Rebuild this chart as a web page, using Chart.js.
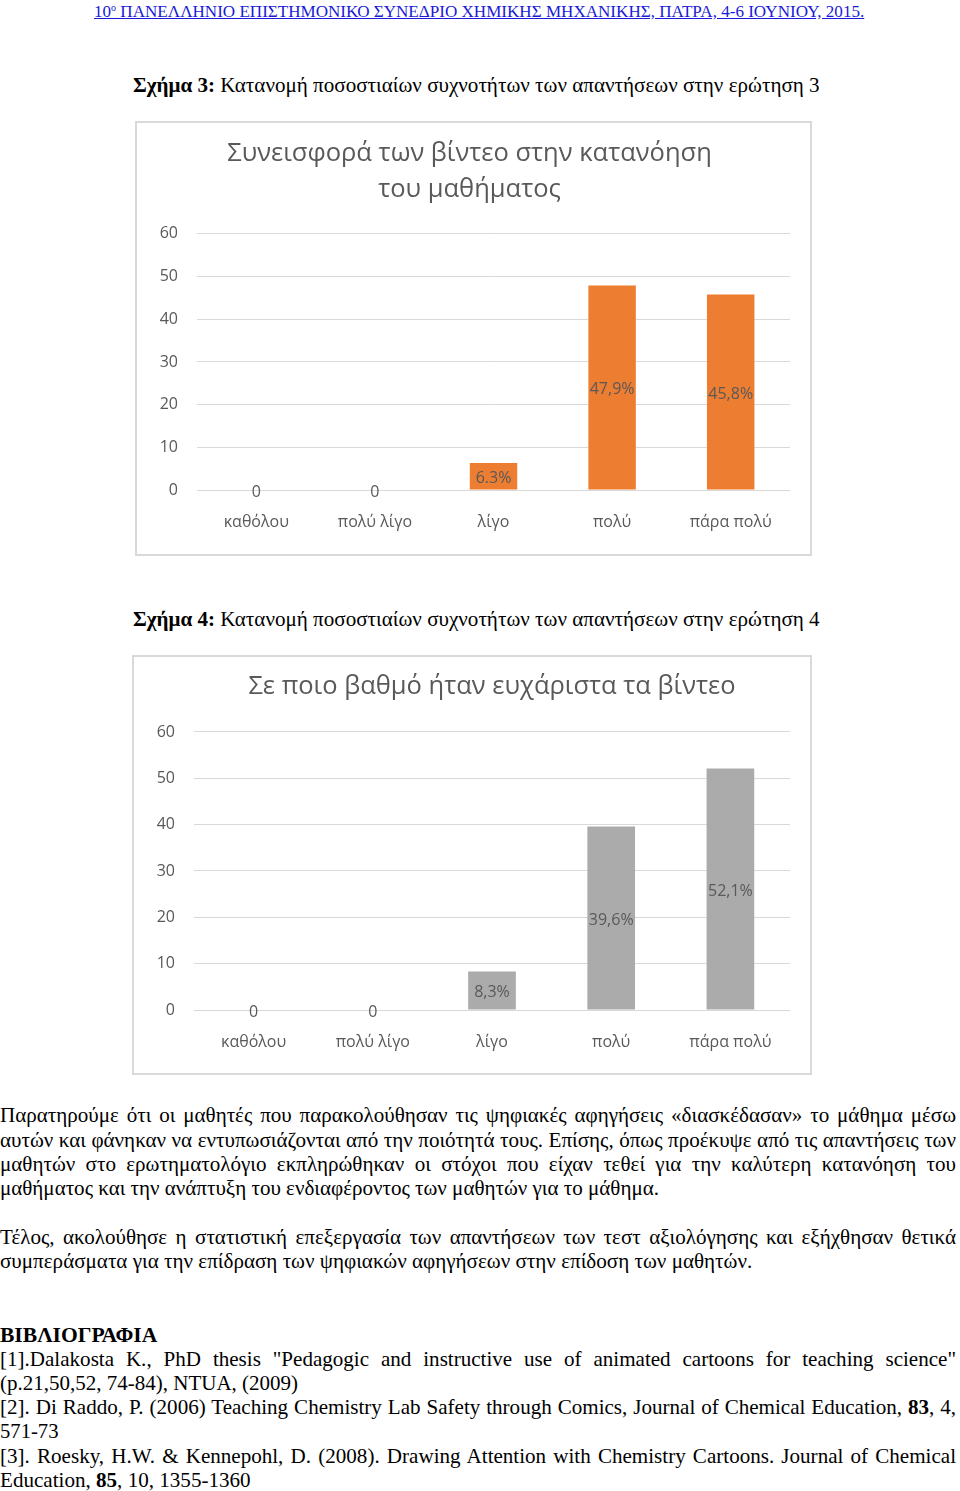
<!DOCTYPE html>
<html>
<head>
<meta charset="utf-8">
<script src="https://cdn.jsdelivr.net/npm/chart.js@4.4.1/dist/chart.umd.min.js"></script>
<style>
  body { margin: 0; background: #fff; width: 960px; height: 1491px; position: relative; overflow: hidden;
         font-family: "Liberation Serif", "Times New Roman", serif; color: #000; }
  .ln { position: absolute; left: 0; font-size: 21px; line-height: 24px; white-space: nowrap; transform-origin: 0 50%; }
  .ln.j { white-space: normal; text-align: justify; text-align-last: justify; }
  .hdr { font-size: 17px; color: #1a1ad8; text-decoration: underline; }
  .hdr sup { font-size: 10px; vertical-align: 6px; line-height: 0; }
  .box { position: absolute; border: 2px solid #d9d9d9; background: #fff; }
  .box canvas { display: block; }
</style>
</head>
<body>

<div class="ln hdr" style="left:94px; top:0px;" data-w="770">10<sup>ο</sup> ΠΑΝΕΛΛΗΝΙΟ ΕΠΙΣΤΗΜΟΝΙΚΟ ΣΥΝΕΔΡΙΟ ΧΗΜΙΚΗΣ ΜΗΧΑΝΙΚΗΣ, ΠΑΤΡΑ, 4-6 ΙΟΥΝΙΟΥ, 2015.</div>

<div class="ln" style="left:133px; top:73px;" data-w="687"><b>Σχήμα 3:</b> Κατανομή ποσοστιαίων συχνοτήτων των απαντήσεων στην ερώτηση 3</div>

<div class="box" style="left:135px; top:121px;"><canvas id="chart1" width="673" height="431"></canvas></div>

<div class="ln" style="left:133px; top:607px;" data-w="687"><b>Σχήμα 4:</b> Κατανομή ποσοστιαίων συχνοτήτων των απαντήσεων στην ερώτηση 4</div>

<div class="box" style="left:132px; top:655px;"><canvas id="chart2" width="676" height="416"></canvas></div>

<div class="ln j" style="top:1103px;">Παρατηρούμε ότι οι μαθητές που παρακολούθησαν τις ψηφιακές αφηγήσεις «διασκέδασαν» το μάθημα μέσω</div>
<div class="ln j" style="top:1128px;">αυτών και φάνηκαν να εντυπωσιάζονται από την ποιότητά τους. Επίσης, όπως προέκυψε από τις απαντήσεις των</div>
<div class="ln j" style="top:1152px;">μαθητών στο ερωτηματολόγιο εκπληρώθηκαν οι στόχοι που είχαν τεθεί για την καλύτερη κατανόηση του</div>
<div class="ln body" style="top:1176px;" data-w="659">μαθήματος και την ανάπτυξη του ενδιαφέροντος των μαθητών για το μάθημα.</div>

<div class="ln j" style="top:1225px;">Τέλος, ακολούθησε η στατιστική επεξεργασία των απαντήσεων των τεστ αξιολόγησης και εξήχθησαν θετικά</div>
<div class="ln body" style="top:1249px;" data-w="752">συμπεράσματα για την επίδραση των ψηφιακών αφηγήσεων στην επίδοση των μαθητών.</div>

<div class="ln" style="top:1323px;" data-w="157"><b>ΒΙΒΛΙΟΓΡΑΦΙΑ</b></div>
<div class="ln j" style="top:1347px;">[1].Dalakosta K., PhD thesis "Pedagogic and instructive use of animated cartoons for teaching science"</div>
<div class="ln" style="top:1371px;" data-w="298">(p.21,50,52, 74-84), NTUA, (2009)</div>
<div class="ln j" style="top:1395px;">[2]. Di Raddo, P. (2006) Teaching Chemistry Lab Safety through Comics, Journal of Chemical Education, <b>83</b>, 4,</div>
<div class="ln" style="top:1419px;" data-w="59">571-73</div>
<div class="ln j" style="top:1444px;">[3]. Roesky, H.W. &amp; Kennepohl, D. (2008). Drawing Attention with Chemistry Cartoons. Journal of Chemical</div>
<div class="ln" style="top:1468px;" data-w="251">Education, <b>85</b>, 10, 1355-1360</div>

<script>
// chart data
var categories = ['καθόλου', 'πολύ λίγο', 'λίγο', 'πολύ', 'πάρα πολύ'];
var yTicks = [0, 10, 20, 30, 40, 50, 60];

var understandingTitle = ['Συνεισφορά των βίντεο στην κατανόηση', 'του μαθήματος'];
var understandingValues = [0, 0, 6.3, 47.9, 45.8];
var understandingLabels = ['0', '0', '6.3%', '47,9%', '45,8%'];

var enjoymentTitle = 'Σε ποιο βαθμό ήταν ευχάριστα τα βίντεο';
var enjoymentValues = [0, 0, 8.3, 39.6, 52.1];
var enjoymentLabels = ['0', '0', '8,3%', '39,6%', '52,1%'];

var chartFont = '"Open Sans", "Noto Sans", sans-serif';
var textGrey = '#595959';

// fit the text lines to the page widths
var bodyScales = [];
document.querySelectorAll('.ln:not(.j)').forEach(function (el) {
    var s = (+el.dataset.w) / el.offsetWidth;
    el.style.transform = 'scaleX(' + s + ')';
    if (el.classList.contains('body')) bodyScales.push(s);
});
var bodyScale = (bodyScales[0] + bodyScales[1]) / 2;
document.querySelectorAll('.ln.j').forEach(function (el) {
    el.style.width = (956 / bodyScale) + 'px';
    el.style.transform = 'scaleX(' + bodyScale + ')';
});

// values written in the middle of each bar
var barLabels = {
    id: 'barLabels',
    afterDatasetsDraw: function (chart, args, opts) {
        var ctx = chart.ctx;
        var meta = chart.getDatasetMeta(0);
        ctx.save();
        ctx.font = '16px ' + chartFont;
        ctx.fillStyle = opts.color;
        ctx.textAlign = 'center';
        ctx.textBaseline = 'middle';
        meta.data.forEach(function (bar, i) {
            ctx.fillText(opts.labels[i], bar.x, (bar.y + bar.base) / 2 + 2);
        });
        ctx.restore();
    }
};

// nudge the title sideways, the way the original sits
var titleShift = {
    id: 'titleShift',
    afterLayout: function (chart, args, opts) {
        var t = chart.titleBlock;
        if (t) { t.left += opts.dx; t.right += opts.dx; }
    }
};

function makeChart(id, title, values, labels, color, titlePad, axisHeight, dx) {
    return new Chart(document.getElementById(id), {
        type: 'bar',
        data: {
            labels: categories,
            datasets: [{
                data: values,
                backgroundColor: color,
                categoryPercentage: 0.8,
                barPercentage: 0.5
            }]
        },
        options: {
            responsive: false,
            animation: false,
            layout: { padding: { left: 0, right: 20, top: 0, bottom: 0 } },
            plugins: {
                legend: { display: false },
                tooltip: { enabled: false },
                title: {
                    display: true,
                    text: title,
                    color: textGrey,
                    font: { family: chartFont, size: 25.5, weight: 'normal', lineHeight: 1.41 },
                    padding: titlePad
                },
                barLabels: { labels: labels, color: textGrey },
                titleShift: { dx: dx }
            },
            scales: {
                x: {
                    grid: { display: false, drawTicks: false },
                    border: { display: false },
                    ticks: { color: textGrey, padding: 23, font: { family: chartFont, size: 16 } },
                    afterFit: function (scale) { scale.height = axisHeight; }
                },
                y: {
                    min: 0,
                    max: 60,
                    afterBuildTicks: function (scale) {
                        scale.ticks = yTicks.map(function (v) { return { value: v }; });
                    },
                    grid: { color: '#d9d9d9', lineWidth: 1, drawTicks: false },
                    border: { display: false },
                    ticks: { color: textGrey, padding: 19, font: { family: chartFont, size: 16 } },
                    afterFit: function (scale) { scale.width = 60; }
                }
            }
        },
        plugins: [barLabels, titleShift]
    });
}

makeChart('chart1', understandingTitle, understandingValues, understandingLabels, '#ed7d31', { top: 13, bottom: 26 }, 64, 6);
makeChart('chart2', enjoymentTitle, enjoymentValues, enjoymentLabels, '#ababab', { top: 12, bottom: 27 }, 63, 30);
</script>
</body>
</html>
